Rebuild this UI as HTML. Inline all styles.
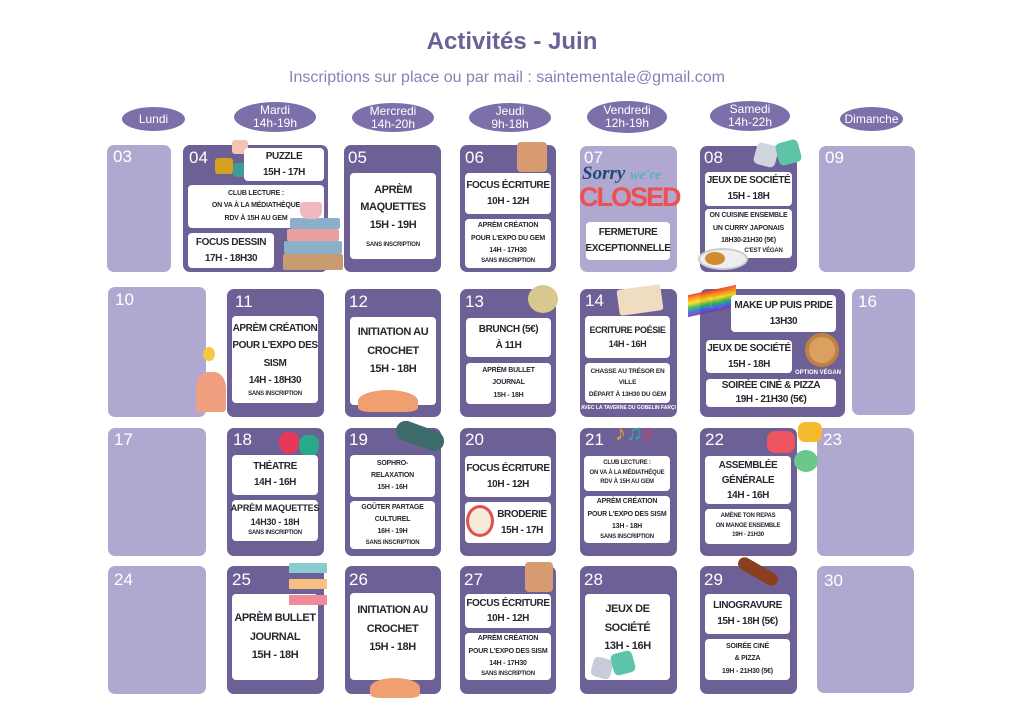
<!DOCTYPE html>
<html><head><meta charset="utf-8"><style>
*{margin:0;padding:0;box-sizing:border-box}
body{width:1024px;height:724px;background:#fff;position:relative;overflow:hidden;font-family:"Liberation Sans",sans-serif}
.a{position:absolute}
.c{position:absolute;border-radius:7px}
.d{background:#6d6096}.l{background:#b0a8d0}
.n{position:absolute;color:#fff;font-size:17px}
.b{position:absolute;background:#fff;border-radius:4px;display:flex;flex-direction:column;justify-content:center;align-items:center;text-align:center;color:#2a2630;font-weight:bold;font-size:10px;line-height:1.6;white-space:nowrap;letter-spacing:-0.4px;overflow:visible}
.s{font-size:6px;line-height:1.6;letter-spacing:-0.2px}
.m{font-size:7px;line-height:1.75;letter-spacing:-0.2px}
.p{position:absolute;background:#7d70aa;color:#fff;border-radius:50%;text-align:center;font-size:12px;line-height:13px;display:flex;flex-direction:column;justify-content:center}
</style></head><body>
<div class="a" style="left:0;width:1024px;top:28px;text-align:center;font-size:24px;font-weight:bold;color:#6d6096">Activités - Juin</div>
<div class="a" style="left:0;width:1014px;top:69px;text-align:center;font-size:16px;color:#8a7fb5">Inscriptions sur place ou par mail : saintementale@gmail.com</div>

<div class="p" style="left:122px;top:107px;width:63px;height:24px">Lundi</div>
<div class="p" style="left:234px;top:102px;width:82px;height:30px">Mardi<br>14h-19h</div>
<div class="p" style="left:352px;top:103px;width:82px;height:29px">Mercredi<br>14h-20h</div>
<div class="p" style="left:469px;top:103px;width:82px;height:29px">Jeudi<br>9h-18h</div>
<div class="p" style="left:587px;top:101px;width:80px;height:32px">Vendredi<br>12h-19h</div>
<div class="p" style="left:710px;top:101px;width:80px;height:30px">Samedi<br>14h-22h</div>
<div class="p" style="left:840px;top:107px;width:63px;height:24px">Dimanche</div>

<!-- Row 1 -->
<div class="c l" style="left:107px;top:145px;width:64px;height:127px"><div class="n" style="left:6px;top:2px">03</div></div>
<div class="c d" style="left:183px;top:145px;width:145px;height:127px"><div class="n" style="left:6px;top:3px">04</div></div>
<div class="a" style="left:215px;top:158px;width:18px;height:16px;background:#d4a020;border-radius:3px"></div>
<div class="a" style="left:233px;top:163px;width:16px;height:14px;background:#3f9a9a;border-radius:3px"></div>
<div class="a" style="left:232px;top:140px;width:16px;height:14px;background:#f3c5b0;border-radius:3px"></div>
<div class="b" style="left:244px;top:148px;width:80px;height:33px">PUZZLE<br>15H - 17H</div>
<div class="b m" style="left:188px;top:185px;width:136px;height:43px">CLUB LECTURE :<br>ON VA À LA MÉDIATHÈQUE<br>RDV À 15H AU GEM</div>
<div class="b" style="left:188px;top:233px;width:86px;height:35px">FOCUS DESSIN<br>17H - 18H30</div>
<div class="a" style="left:290px;top:218px;width:50px;height:11px;background:#8cb0cc;border-radius:2px"></div>
<div class="a" style="left:287px;top:229px;width:52px;height:12px;background:#e8a0a0;border-radius:2px"></div>
<div class="a" style="left:284px;top:241px;width:58px;height:13px;background:#8cb0cc;border-radius:2px"></div>
<div class="a" style="left:283px;top:254px;width:60px;height:16px;background:#c89c70;border-radius:2px"></div>
<div class="a" style="left:300px;top:202px;width:22px;height:17px;background:#f0b8c0;border-radius:3px 3px 8px 8px"></div>

<div class="c d" style="left:344px;top:145px;width:97px;height:127px"><div class="n" style="left:4px;top:3px">05</div></div>
<div class="b" style="left:350px;top:173px;width:86px;height:86px;font-size:11px"><span>APRÈM<br>MAQUETTES<br>15H - 19H</span><span class="s" style="margin-top:6px">SANS INSCRIPTION</span></div>

<div class="c d" style="left:460px;top:145px;width:96px;height:127px"><div class="n" style="left:5px;top:3px">06</div></div>
<div class="a" style="left:517px;top:142px;width:30px;height:30px;background:#d89a70;border-radius:4px"></div>
<div class="b" style="left:465px;top:173px;width:86px;height:41px">FOCUS ÉCRITURE<br>10H - 12H</div>
<div class="b s" style="left:465px;top:219px;width:86px;height:49px"><span class="m">APRÈM CRÉATION<br>POUR L'EXPO DU GEM<br>14H - 17H30</span>SANS INSCRIPTION</div>

<div class="c l" style="left:580px;top:146px;width:97px;height:126px"><div class="n" style="left:4px;top:2px">07</div></div>
<div class="a" style="left:582px;top:163px;font-size:19px;font-weight:bold;font-style:italic;color:#1e4a7a;font-family:'Liberation Serif',serif">Sorry <span style="color:#58b0c0;font-size:14px">we're</span></div>
<div class="a" style="left:579px;top:182px;font-size:27px;font-weight:bold;color:#ee5050;letter-spacing:-2px">CLOSED</div>
<div class="b" style="left:586px;top:222px;width:84px;height:38px">FERMETURE<br>EXCEPTIONNELLE</div>

<div class="c d" style="left:700px;top:146px;width:97px;height:126px"><div class="n" style="left:4px;top:2px">08</div></div>
<div class="a" style="left:755px;top:144px;width:22px;height:22px;background:#d0d4dc;border-radius:5px;transform:rotate(15deg)"></div>
<div class="a" style="left:777px;top:141px;width:23px;height:23px;background:#5ec4a8;border-radius:5px;transform:rotate(-15deg)"></div>
<div class="b" style="left:705px;top:172px;width:87px;height:34px">JEUX DE SOCIÉTÉ<br>15H - 18H</div>
<div class="b s" style="left:705px;top:209px;width:87px;height:49px"><span class="m">ON CUISINE ENSEMBLE<br>UN CURRY JAPONAIS<br>18H30-21H30 (5€)</span><span style="margin-left:30px">C'EST VÉGAN</span></div>
<div class="a" style="left:698px;top:248px;width:50px;height:22px;background:#eee;border:2px solid #ccc;border-radius:50%"></div>
<div class="a" style="left:705px;top:252px;width:20px;height:13px;background:#d08a30;border-radius:50%"></div>

<div class="c l" style="left:819px;top:146px;width:96px;height:126px"><div class="n" style="left:6px;top:2px">09</div></div>

<!-- Row 2 -->
<div class="c l" style="left:108px;top:287px;width:98px;height:130px"><div class="n" style="left:7px;top:3px">10</div></div>
<div class="c d" style="left:227px;top:289px;width:97px;height:128px"><div class="n" style="left:8px;top:3px">11</div></div>
<div class="b" style="left:232px;top:316px;width:86px;height:87px;line-height:1.75"><span>APRÈM CRÉATION<br>POUR L'EXPO DES<br>SISM<br>14H - 18H30</span><span class="s">SANS INSCRIPTION</span></div>
<div class="a" style="left:196px;top:372px;width:30px;height:40px;background:#f0a080;border-radius:40% 40% 10% 10%"></div>
<div class="a" style="left:203px;top:347px;width:12px;height:14px;background:#f5c842;border-radius:50%"></div>
<div class="c d" style="left:345px;top:289px;width:96px;height:128px"><div class="n" style="left:4px;top:3px">12</div></div>
<div class="b" style="left:350px;top:317px;width:86px;height:88px;justify-content:flex-start;padding-top:6px;font-size:11px;line-height:1.7">INITIATION AU<br>CROCHET<br>15H - 18H</div>
<div class="a" style="left:358px;top:390px;width:60px;height:22px;background:#f0a070;border-radius:50% 50% 20% 20%"></div>
<div class="c d" style="left:460px;top:289px;width:96px;height:128px"><div class="n" style="left:5px;top:3px">13</div></div>
<div class="a" style="left:528px;top:285px;width:30px;height:28px;background:#d8c890;border-radius:50%"></div>
<div class="b" style="left:466px;top:318px;width:85px;height:39px">BRUNCH (5€)<br>À 11H</div>
<div class="b m" style="left:466px;top:363px;width:85px;height:41px">APRÈM BULLET<br>JOURNAL<br>15H - 18H</div>
<div class="c d" style="left:580px;top:289px;width:97px;height:128px"><div class="n" style="left:5px;top:2px">14</div></div>
<div class="a" style="left:618px;top:287px;width:44px;height:26px;background:#f0dcc0;border-radius:3px;transform:rotate(-8deg)"></div>
<div class="b" style="left:585px;top:316px;width:85px;height:42px;font-size:9px">ECRITURE POÉSIE<br>14H - 16H</div>
<div class="b m" style="left:585px;top:363px;width:85px;height:40px;font-size:6.5px">CHASSE AU TRÉSOR EN<br>VILLE<br>DÉPART À 13H30 DU GEM</div>
<div class="a" style="left:580px;top:405px;width:97px;text-align:center;color:#fff;font-size:5px;font-weight:bold;white-space:nowrap">AVEC LA TAVERNE DU GOBELIN FARÇI</div>
<div class="c d" style="left:700px;top:289px;width:145px;height:128px"><div class="n" style="left:6px;top:4px">15</div></div>
<div class="a" style="left:688px;top:290px;width:48px;height:22px;background:linear-gradient(#e33,#f90,#fd2,#3b4,#36e,#839);transform:skewY(-12deg);opacity:.9"></div>
<div class="b" style="left:731px;top:295px;width:105px;height:37px">MAKE UP PUIS PRIDE<br>13H30</div>
<div class="b" style="left:706px;top:340px;width:86px;height:33px">JEUX DE SOCIÉTÉ<br>15H - 18H</div>
<div class="a" style="left:805px;top:333px;width:34px;height:34px;background:#d9a060;border-radius:50%;border:4px solid #c08040"></div>
<div class="a" style="left:795px;top:370px;font-size:6px;color:#fff;font-weight:bold;white-space:nowrap">OPTION VÉGAN</div>
<div class="b" style="left:706px;top:379px;width:130px;height:28px;line-height:1.4">SOIRÉE CINÉ &amp; PIZZA<br>19H - 21H30 (5€)</div>
<div class="c l" style="left:852px;top:289px;width:63px;height:126px"><div class="n" style="left:6px;top:3px">16</div></div>

<!-- Row 3 -->
<div class="c l" style="left:108px;top:428px;width:98px;height:128px"><div class="n" style="left:6px;top:2px">17</div></div>
<div class="c d" style="left:227px;top:428px;width:97px;height:128px"><div class="n" style="left:6px;top:2px">18</div></div>
<div class="a" style="left:279px;top:432px;width:20px;height:22px;background:#e8385a;border-radius:40% 40% 50% 50%"></div>
<div class="a" style="left:299px;top:435px;width:20px;height:22px;background:#2aa88a;border-radius:40% 40% 50% 50%"></div>
<div class="b" style="left:232px;top:455px;width:86px;height:40px">THÉATRE<br>14H - 16H</div>
<div class="b s" style="left:232px;top:500px;width:86px;height:41px"><span style="font-size:9px;line-height:1.5">APRÈM MAQUETTES<br>14H30 - 18H</span>SANS INSCRIPTION</div>
<div class="c d" style="left:345px;top:428px;width:96px;height:128px"><div class="n" style="left:4px;top:2px">19</div></div>
<div class="b m" style="left:350px;top:455px;width:85px;height:42px">SOPHRO-<br>RELAXATION<br>15H - 16H</div>
<div class="a" style="left:395px;top:426px;width:50px;height:20px;background:#3d6a6a;border-radius:10px;transform:rotate(20deg)"></div>
<div class="b s" style="left:350px;top:501px;width:85px;height:48px"><span class="m">GOÛTER PARTAGE<br>CULTUREL<br>16H - 19H</span>SANS INSCRIPTION</div>
<div class="c d" style="left:460px;top:428px;width:96px;height:128px"><div class="n" style="left:5px;top:2px">20</div></div>
<div class="b" style="left:465px;top:456px;width:86px;height:41px">FOCUS ÉCRITURE<br>10H - 12H</div>
<div class="b" style="left:465px;top:502px;width:86px;height:41px;padding-left:28px">BRODERIE<br>15H - 17H</div>
<div class="a" style="left:466px;top:505px;width:28px;height:32px;border:3px solid #e05050;border-radius:50%;background:#f4ecd8"></div>
<div class="c d" style="left:580px;top:428px;width:97px;height:128px"><div class="n" style="left:5px;top:2px">21</div></div>
<div class="a" style="left:615px;top:420px;font-size:22px;color:#e8a030">♪<span style="color:#2ab0a0">♫</span><span style="color:#e83060">♪</span></div>
<div class="b s" style="left:584px;top:456px;width:86px;height:35px">CLUB LECTURE :<br>ON VA À LA MÉDIATHÈQUE<br>RDV À 15H AU GEM</div>
<div class="b s" style="left:584px;top:496px;width:86px;height:47px"><span class="m">APRÈM CRÉATION<br>POUR L'EXPO DES SISM<br>13H - 18H</span>SANS INSCRIPTION</div>
<div class="c d" style="left:700px;top:428px;width:97px;height:128px"><div class="n" style="left:5px;top:2px">22</div></div>
<div class="b" style="left:705px;top:456px;width:86px;height:48px;line-height:1.5">ASSEMBLÉE<br>GÉNÉRALE<br>14H - 16H</div>
<div class="b s" style="left:705px;top:509px;width:86px;height:35px">AMÈNE TON REPAS<br>ON MANGE ENSEMBLE<br>19H - 21H30</div>
<div class="c l" style="left:817px;top:428px;width:97px;height:128px"><div class="n" style="left:6px;top:2px">23</div></div>
<div class="a" style="left:767px;top:431px;width:28px;height:22px;background:#ee5560;border-radius:8px"></div>
<div class="a" style="left:798px;top:422px;width:24px;height:20px;background:#f5bb30;border-radius:7px"></div>
<div class="a" style="left:794px;top:450px;width:24px;height:22px;background:#6cc88a;border-radius:50%"></div>

<!-- Row 4 -->
<div class="c l" style="left:108px;top:566px;width:98px;height:128px"><div class="n" style="left:6px;top:4px">24</div></div>
<div class="c d" style="left:227px;top:566px;width:97px;height:128px"><div class="n" style="left:5px;top:4px">25</div></div>
<div class="b" style="left:232px;top:594px;width:86px;height:86px;font-size:11px;line-height:1.7">APRÈM BULLET<br>JOURNAL<br>15H - 18H</div>
<div class="a" style="left:289px;top:563px;width:38px;height:10px;background:#88ccd0"></div>
<div class="a" style="left:289px;top:579px;width:38px;height:10px;background:#f5c080"></div>
<div class="a" style="left:289px;top:595px;width:38px;height:10px;background:#f08a98"></div>
<div class="c d" style="left:345px;top:566px;width:96px;height:128px"><div class="n" style="left:4px;top:4px">26</div></div>
<div class="b" style="left:350px;top:593px;width:85px;height:87px;justify-content:flex-start;padding-top:8px;font-size:11px;line-height:1.7">INITIATION AU<br>CROCHET<br>15H - 18H</div>
<div class="a" style="left:370px;top:678px;width:50px;height:20px;background:#f0a070;border-radius:50% 50% 20% 20%"></div>
<div class="c d" style="left:460px;top:566px;width:96px;height:128px"><div class="n" style="left:4px;top:4px">27</div></div>
<div class="a" style="left:525px;top:562px;width:28px;height:30px;background:#d89a70;border-radius:4px"></div>
<div class="b" style="left:465px;top:594px;width:86px;height:34px;line-height:1.5">FOCUS ÉCRITURE<br>10H - 12H</div>
<div class="b s" style="left:465px;top:633px;width:86px;height:47px"><span class="m">APRÈM CRÉATION<br>POUR L'EXPO DES SISM<br>14H - 17H30</span>SANS INSCRIPTION</div>
<div class="c d" style="left:580px;top:566px;width:97px;height:128px"><div class="n" style="left:4px;top:4px">28</div></div>
<div class="b" style="left:585px;top:594px;width:85px;height:86px;justify-content:flex-start;padding-top:6px;font-size:11px;line-height:1.7">JEUX DE<br>SOCIÉTÉ<br>13H - 16H</div>
<div class="a" style="left:592px;top:658px;width:20px;height:20px;background:#c8ccd8;border-radius:5px;transform:rotate(15deg)"></div>
<div class="a" style="left:612px;top:652px;width:22px;height:22px;background:#5ec4a8;border-radius:5px;transform:rotate(-15deg)"></div>
<div class="c d" style="left:700px;top:566px;width:97px;height:128px"><div class="n" style="left:4px;top:4px">29</div></div>
<div class="a" style="left:736px;top:565px;width:44px;height:13px;background:#8a4020;border-radius:7px;transform:rotate(30deg)"></div>
<div class="b" style="left:705px;top:594px;width:85px;height:40px">LINOGRAVURE<br>15H - 18H (5€)</div>
<div class="b m" style="left:705px;top:639px;width:85px;height:41px">SOIRÉE CINÉ<br>&amp; PIZZA<br>19H - 21H30 (5€)</div>
<div class="c l" style="left:817px;top:566px;width:97px;height:127px"><div class="n" style="left:7px;top:5px">30</div></div>
</body></html>
